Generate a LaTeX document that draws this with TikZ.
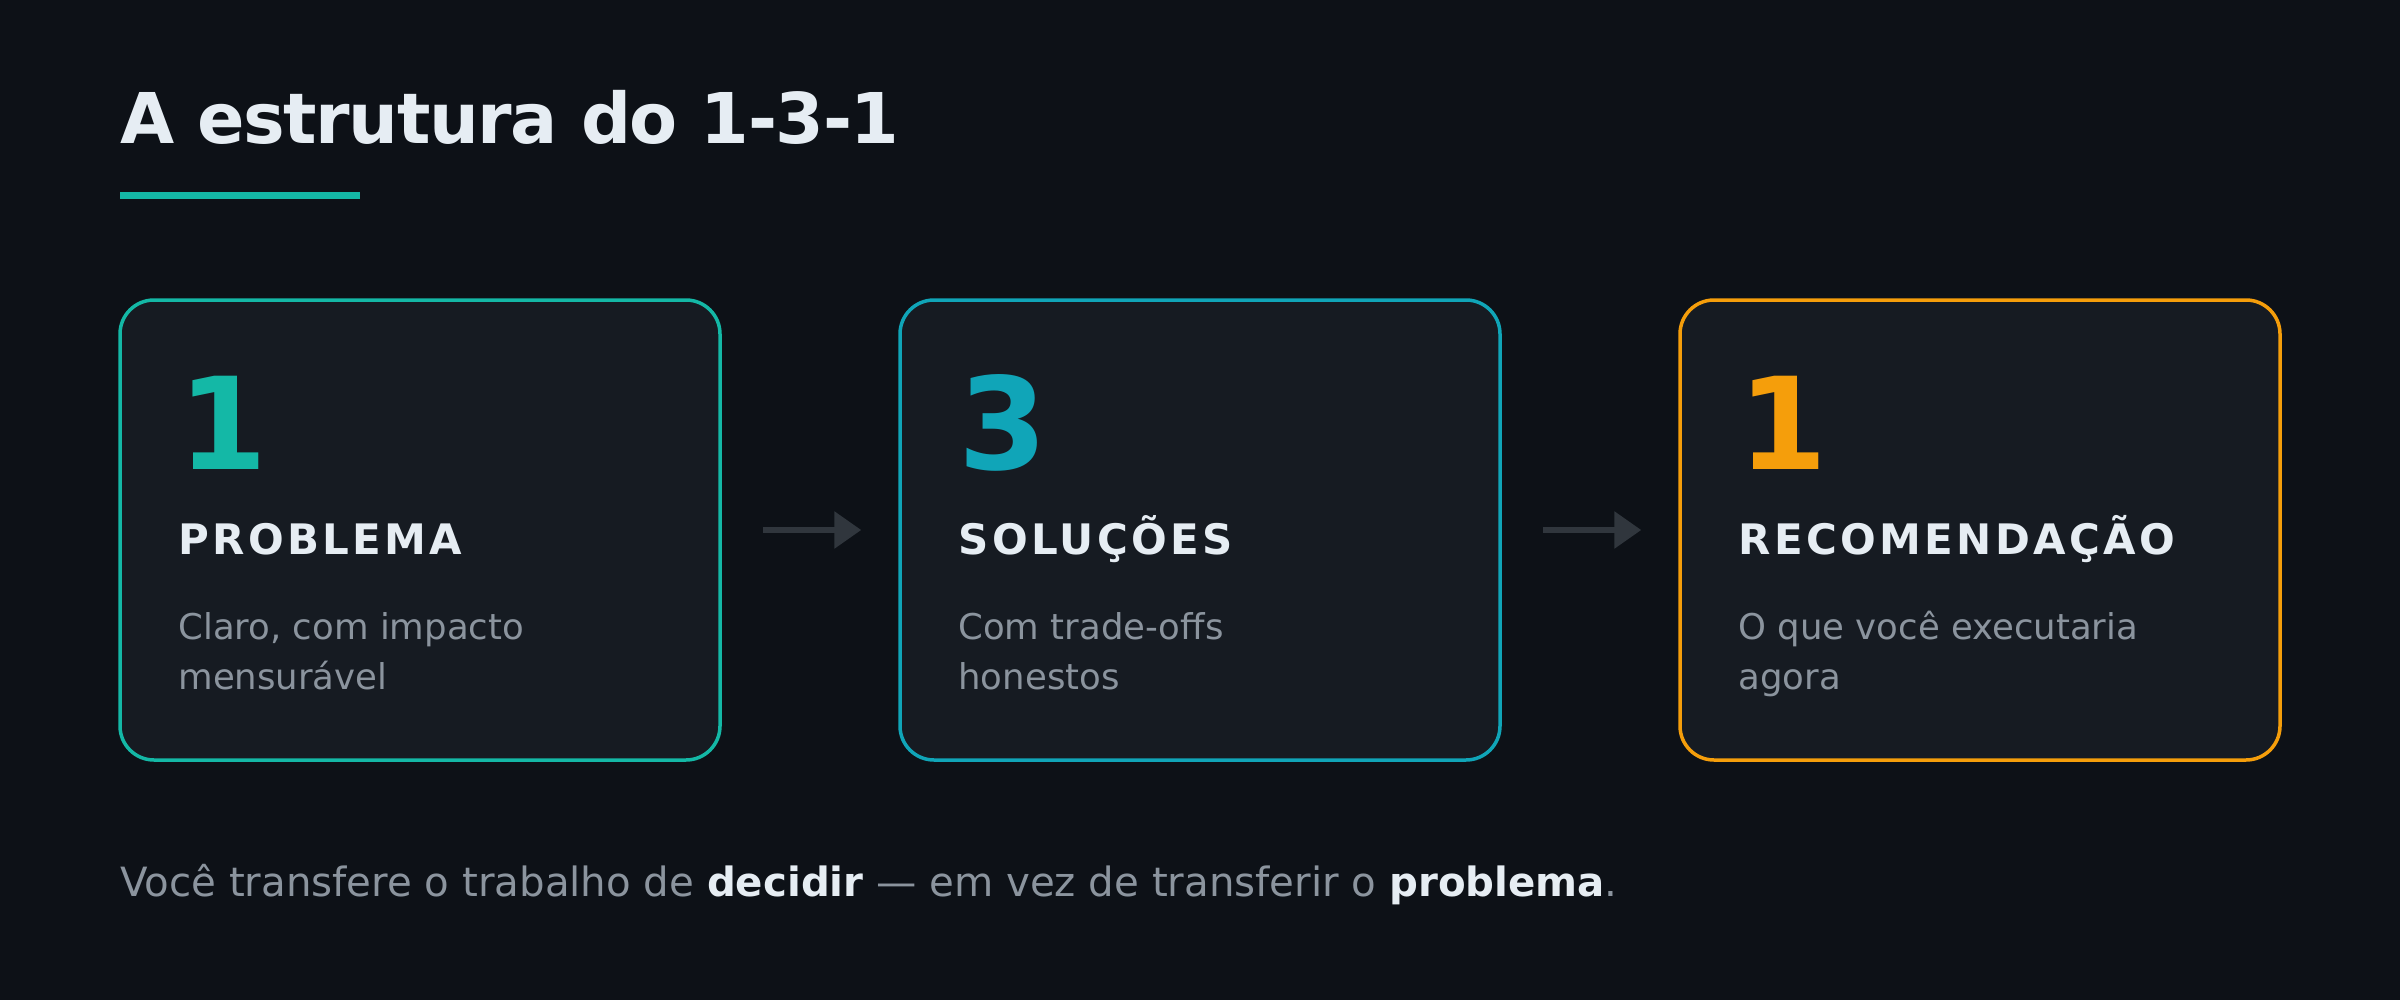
\documentclass[tikz,border=0pt]{standalone}
\usepackage{fontspec}
\setmainfont{DejaVu Sans}
\newfontfamily\labelfont[LetterSpace=8]{DejaVu Sans Bold}
\newfontfamily\titlefont[LetterSpace=-2]{DejaVu Sans Bold}
\usepackage{xcolor}
\usepackage{tikz}
\usetikzlibrary{positioning,arrows.meta}
\definecolor{bg}{HTML}{0D1117}
\definecolor{cardfill}{HTML}{161B22}
\definecolor{teal}{HTML}{14B8A6}
\definecolor{cyan}{HTML}{10A5B8}
\definecolor{amber}{HTML}{F59E0B}
\definecolor{heading}{HTML}{E6EDF3}
\definecolor{muted}{HTML}{8B949E}
\definecolor{arrowgray}{HTML}{30363D}
\tikzstyle{card} = [rectangle, draw, fill=cardfill, line width=3.5pt, rounded corners=34pt, minimum width=600pt, minimum height=460pt, inner sep=0pt]
\tikzstyle{bignum} = [anchor=base west, inner sep=0pt, font=\bfseries\fontsize{128}{128}\selectfont]
\tikzstyle{caption} = [anchor=base west, inner sep=0pt, text=heading, font=\labelfont\fontsize{42}{42}\selectfont]
\tikzstyle{desc} = [anchor=base west, inner sep=0pt, text=muted, align=left, font=\fontsize{35.5}{50}\selectfont]
\tikzstyle{line} = [draw=arrowgray, line width=6pt, -{Triangle[length=27pt,width=36pt]}, shorten <=41pt, shorten >=37pt]

\begin{document}
\begin{tikzpicture}[x=1pt, y=-1pt]
\fill[bg] (0,0) rectangle (2400,1000);
\useasboundingbox (0,0) rectangle (2400,1000);

% title
\node [anchor=base west, inner sep=0pt, text=heading, font=\titlefont\fontsize{70}{70}\selectfont] (title) at (120,144) {A estrutura do 1-3-1};
\fill [teal] (120,192) rectangle (360,199);

% cards
\node [card, draw=teal] (problema) at (420,530) {};
\node [card, draw=cyan] (solucoes) at (1200,530) {};
\node [card, draw=amber] (recomendacao) at (1980,530) {};

\node [bignum, text=teal] (num1) at ([shift={(60,171)}]problema.north west) {1};
\node [caption] (cap1) at ([shift={(60,256)}]problema.north west) {PROBLEMA};
\node [desc] (desc1) at ([shift={(60,391)}]problema.north west) {Claro, com impacto\\mensurável};

\node [bignum, text=cyan] (num2) at ([shift={(60,171)}]solucoes.north west) {3};
\node [caption] (cap2) at ([shift={(60,256)}]solucoes.north west) {SOLUÇÕES};
\node [desc] (desc2) at ([shift={(60,391)}]solucoes.north west) {Com trade-offs\\honestos};

\node [bignum, text=amber] (num3) at ([shift={(60,171)}]recomendacao.north west) {1};
\node [caption] (cap3) at ([shift={(60,256)}]recomendacao.north west) {RECOMENDAÇÃO};
\node [desc] (desc3) at ([shift={(60,391)}]recomendacao.north west) {O que você executaria\\agora};

\path [line] (problema) -- (solucoes);
\path [line] (solucoes) -- (recomendacao);

% footer
\node [anchor=base west, inner sep=0pt, text=muted, font=\fontsize{40.3}{44}\selectfont] (footer) at (120,896) {Você transfere o trabalho de \textcolor{heading}{\bfseries decidir} — em vez de transferir o \textcolor{heading}{\bfseries problema}.};
\end{tikzpicture}
\end{document}
